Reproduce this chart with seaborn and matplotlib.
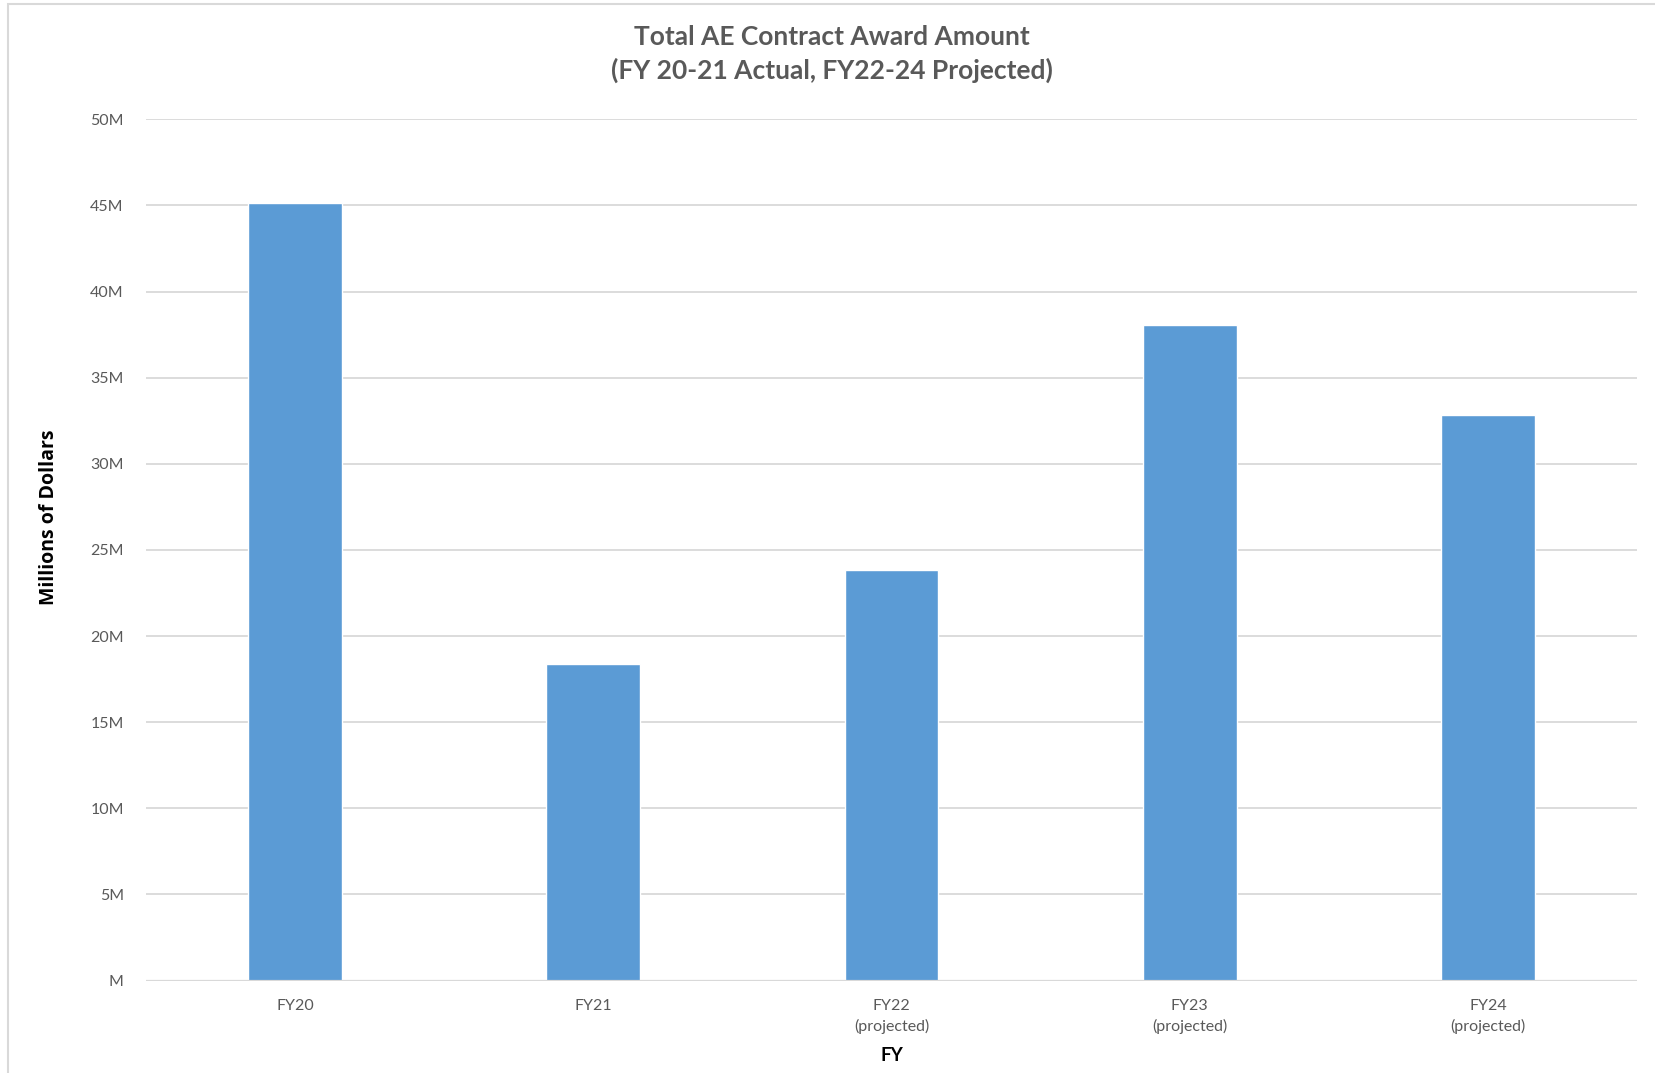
import matplotlib
matplotlib.use("Agg")
import matplotlib.pyplot as plt
from matplotlib.ticker import FuncFormatter, MultipleLocator
from matplotlib.patches import Rectangle
import seaborn as sns
import pandas as pd

# values, in millions of dollars
fiscal_years = ["FY20", "FY21", "FY22\n(projected)", "FY23\n(projected)", "FY24\n(projected)"]
award_millions = [45.13, 18.38, 23.84, 38.05, 32.84]

df = pd.DataFrame({"FY": fiscal_years, "Amount": award_millions})

sns.set_style("white")
plt.rcParams["font.family"] = ["Lato", "DejaVu Sans"]

W, H = 1655, 1073
fig = plt.figure(figsize=(W / 100, H / 100), dpi=100)
ax = fig.add_axes([146 / W, 1 - 980.5 / H, (1637 - 146) / W, (980.5 - 119.3) / H])

sns.barplot(data=df, x="FY", y="Amount", color="#5b9bd5", width=0.315,
            saturation=1, ax=ax, zorder=3)

ax.set_xlim(-0.5, len(fiscal_years) - 0.5)
ax.set_ylim(0, 50)
ax.yaxis.set_major_locator(MultipleLocator(5))
ax.yaxis.set_major_formatter(FuncFormatter(lambda v, p: f"{int(v)}M" if v else "M"))
ax.grid(axis="y", color="#d9d9d9", linewidth=1.3, zorder=0)
ax.set_axisbelow(True)
for s in ax.spines.values():
    s.set_visible(False)
ax.axhline(0, color="#d9d9d9", linewidth=1.6, zorder=4)

ax.tick_params(axis="both", length=0, labelsize=11.5, labelcolor="#595959")
ax.tick_params(axis="y", pad=16)
ax.tick_params(axis="x", pad=13)
for lbl in ax.get_xticklabels():
    lbl.set_linespacing(1.55)

ax.set_xlabel("FY", fontsize=13.5, fontweight="bold", color="black", labelpad=9)
ax.set_ylabel("")
fig.text(49 / W, 1 - 517 / H, "Millions of Dollars", rotation=90, ha="center", va="center",
         fontsize=14, fontweight="bold", color="black", family=["Open Sans", "DejaVu Sans"])

fig.text(832 / W, 1 - 37 / H, "Total AE Contract Award Amount", ha="center", va="center",
         fontsize=19, fontweight="bold", color="#595959")
fig.text(832 / W, 1 - 70 / H, "(FY 20-21 Actual, FY22-24 Projected)", ha="center", va="center",
         fontsize=19, fontweight="bold", color="#595959")

# thin frame of the original chart area
fig.patches.append(Rectangle((8 / W, -0.01), 1.02, 1 - 4 / H + 0.01, transform=fig.transFigure,
                             fill=False, edgecolor="#d9d9d9", linewidth=1.5))

fig.savefig("out.png", dpi=100)
